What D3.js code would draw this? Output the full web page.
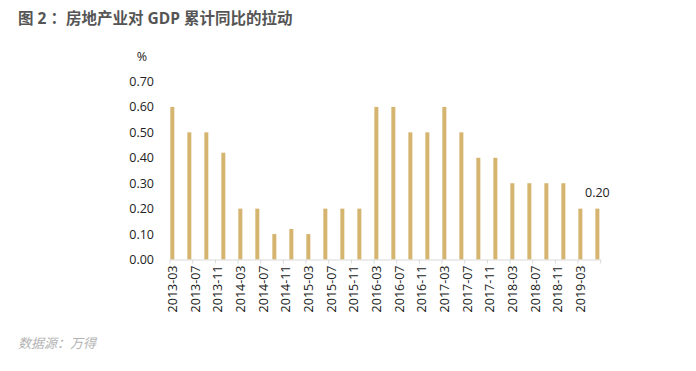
<!DOCTYPE html>
<html>
<head>
<meta charset="utf-8">
<script src="https://cdn.jsdelivr.net/npm/d3@7"></script>
<style>
  body { margin: 0; background: #fff; }
  svg { display: block; }
  text { font-family: "Open Sans", "Noto Sans CJK SC", sans-serif; }
</style>
</head>
<body>
<div id="chart"></div>
<script>
// quarterly values, 2013-03 .. 2019-06
const quarters = ["2013-03","2013-06","2013-09","2013-12","2014-03","2014-06","2014-09","2014-12",
  "2015-03","2015-06","2015-09","2015-12","2016-03","2016-06","2016-09","2016-12",
  "2017-03","2017-06","2017-09","2017-12","2018-03","2018-06","2018-09","2018-12",
  "2019-03","2019-06"];
const values = [0.6,0.5,0.5,0.42,0.2,0.2,0.1,0.12,0.1,0.2,0.2,0.2,
  0.6,0.6,0.5,0.5,0.6,0.5,0.4,0.4,0.3,0.3,0.3,0.3,0.2,0.2];
const tickLabels = ["2013-03","2013-07","2013-11","2014-03","2014-07","2014-11","2015-03","2015-07",
  "2015-11","2016-03","2016-07","2016-11","2017-03","2017-07","2017-11","2018-03","2018-07",
  "2018-11","2019-03"];
const yTicks = [0,0.1,0.2,0.3,0.4,0.5,0.6,0.7];

const width = 696, height = 371;
const monthIdx = s => { const [y, m] = s.split("-").map(Number); return (y - 2013) * 12 + (m - 3); };

const svg = d3.select("#chart").append("svg").attr("width", width).attr("height", height);

svg.append("text").attr("x", 18).attr("y", 24)
  .attr("font-size", 15.5).attr("font-weight", "bold").attr("fill", "#555")
  .text("图 2 ：房地产业对 GDP 累计同比的拉动");

svg.append("text").attr("x", 18).attr("y", 348)
  .attr("font-size", 13).attr("font-style", "italic").attr("fill", "#b3b3b3")
  .text("数据源：万得");

const x = d3.scaleLinear().domain([0, 76]).range([169.5, 600.2]);
const y = d3.scaleLinear().domain([0, 0.7]).range([259.5, 81.5]);

// y axis labels (no line)
const yAxis = svg.append("g").attr("transform", "translate(154,0)")
  .call(d3.axisLeft(y).tickValues(yTicks).tickFormat(d3.format(".2f")).tickSize(0).tickPadding(0));
yAxis.select(".domain").remove();
yAxis.selectAll("text").attr("font-size", 12.5).attr("fill", "#222").attr("font-family", "Open Sans, sans-serif");

svg.append("text").attr("x", 142).attr("y", 61).attr("text-anchor", "middle")
  .attr("font-size", 12.5).attr("fill", "#222").text("%");

// bars
svg.append("g").selectAll("rect").data(values).join("rect")
  .attr("x", (d, i) => x(monthIdx(quarters[i]) + 0.5) - 2)
  .attr("width", 4)
  .attr("y", d => y(d))
  .attr("height", d => y(0) - y(d))
  .attr("fill", "#d5b46f");

// x axis
const xAxis = svg.append("g").attr("transform", `translate(0,${y(0)})`)
  .call(d3.axisBottom(x).tickValues(d3.range(0, 77, 4)).tickFormat("").tickSize(4).tickSizeOuter(0));
xAxis.select(".domain").attr("stroke", "#d9d9d9");
xAxis.selectAll(".tick line").attr("stroke", "#d9d9d9");

svg.append("g").selectAll("text").data(tickLabels).join("text")
  .attr("transform", d => `translate(${x(monthIdx(d) + 0.5) + 4.5},${y(0) + 6}) rotate(-90)`)
  .attr("text-anchor", "end")
  .attr("font-size", 12.5).attr("fill", "#222")
  .text(d => d);

// data label on last bar
const last = values.length - 1;
svg.append("text")
  .attr("x", x(monthIdx(quarters[last]) + 0.5))
  .attr("y", y(values[last]) - 12)
  .attr("text-anchor", "middle").attr("font-size", 12.5).attr("fill", "#222")
  .text(d3.format(".2f")(values[last]));
</script>
</body>
</html>
